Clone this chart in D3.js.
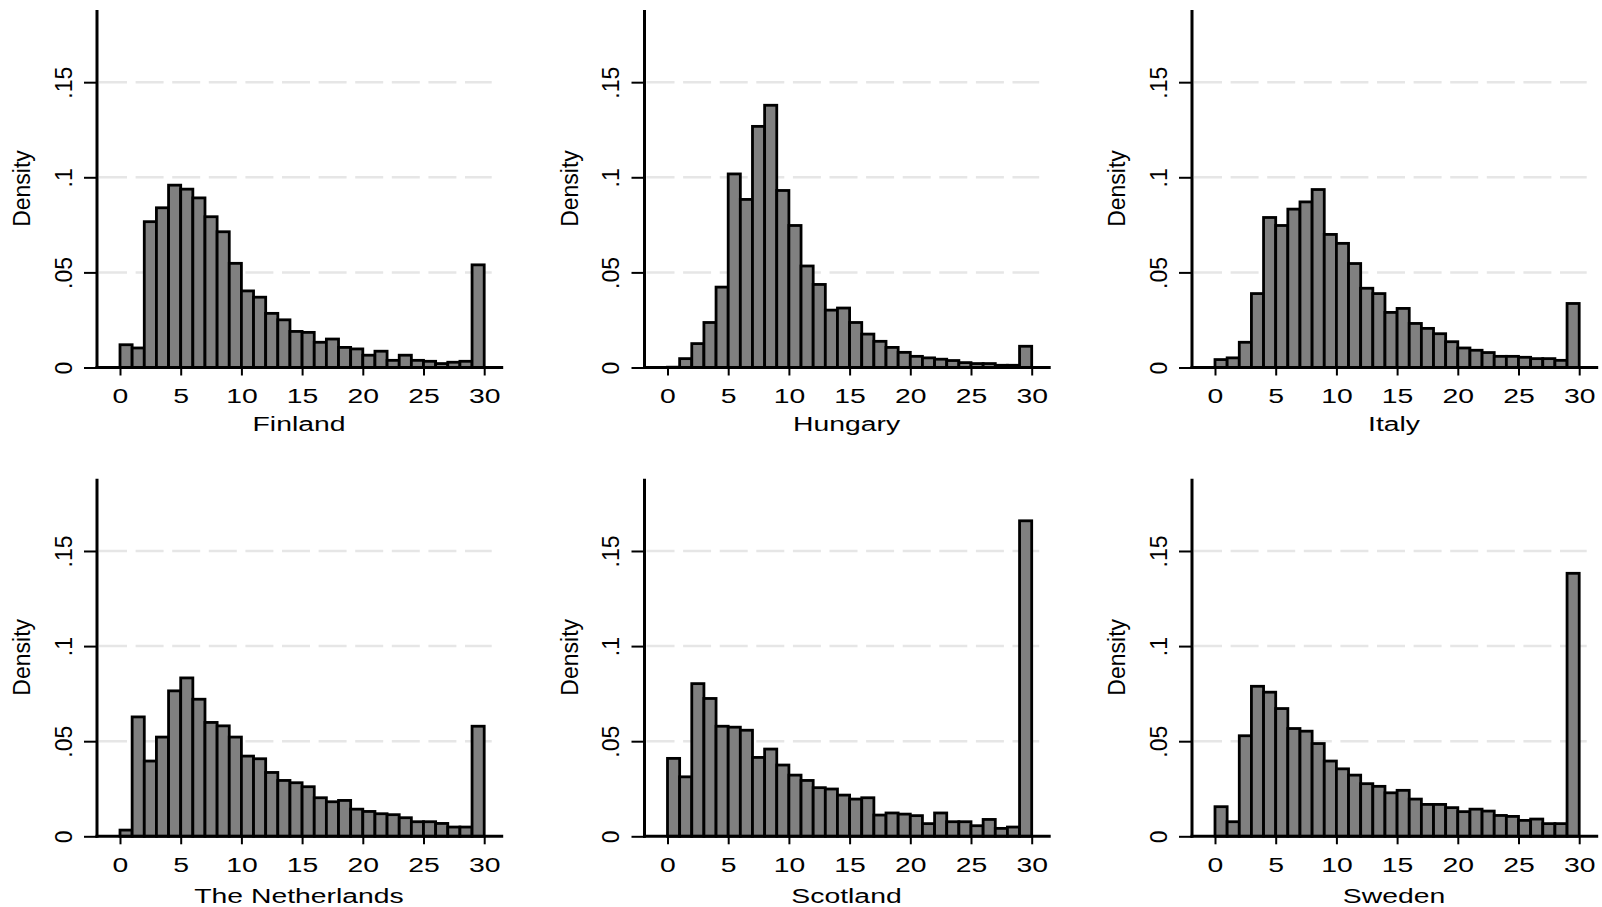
<!DOCTYPE html>
<html>
<head>
<meta charset="utf-8">
<script src="https://cdn.jsdelivr.net/npm/d3@7"></script>
<style>
  html, body { margin: 0; padding: 0; background: #fff; }
  svg { display: block; }
  text { font-family: "Liberation Sans", Arial, Helvetica, sans-serif; fill: #000; }
</style>
</head>
<body>
<div id="chart"></div>
<script>
// Density per 1-unit bin (0-1, 1-2, ... 29-30)
const finland = [0.0127, 0.0110, 0.0774, 0.0847, 0.0966, 0.0945, 0.0899, 0.0800, 0.0721, 0.0555,
                 0.0410, 0.0377, 0.0292, 0.0258, 0.0197, 0.0192, 0.0140, 0.0157, 0.0113, 0.0105,
                 0.0072, 0.0093, 0.0045, 0.0072, 0.0045, 0.0040, 0.0028, 0.0035, 0.0040, 0.0547];
const hungary = [0.0009, 0.0054, 0.0133, 0.0244, 0.0430, 0.1025, 0.0891, 0.1275, 0.1386, 0.0938,
                 0.0754, 0.0541, 0.0444, 0.0309, 0.0320, 0.0244, 0.0183, 0.0145, 0.0113, 0.0087,
                 0.0066, 0.0058, 0.0051, 0.0044, 0.0033, 0.0028, 0.0028, 0.0019, 0.0019, 0.0119];
const italy = [0.0049, 0.0058, 0.0140, 0.0396, 0.0796, 0.0754, 0.0840, 0.0878, 0.0943, 0.0707,
               0.0660, 0.0554, 0.0424, 0.0396, 0.0297, 0.0318, 0.0239, 0.0213, 0.0185, 0.0143,
               0.0110, 0.0098, 0.0086, 0.0066, 0.0066, 0.0061, 0.0054, 0.0054, 0.0045, 0.0344];
const netherlands = [0.0040, 0.0635, 0.0403, 0.0529, 0.0772, 0.0840, 0.0728, 0.0606, 0.0588, 0.0529,
                     0.0429, 0.0415, 0.0343, 0.0301, 0.0289, 0.0268, 0.0210, 0.0189, 0.0196, 0.0150,
                     0.0138, 0.0126, 0.0121, 0.0105, 0.0084, 0.0084, 0.0075, 0.0056, 0.0056, 0.0586];
const scotland = [0.0417, 0.0320, 0.0810, 0.0732, 0.0586, 0.0581, 0.0565, 0.0422, 0.0466, 0.0382,
                  0.0329, 0.0301, 0.0263, 0.0256, 0.0224, 0.0203, 0.0210, 0.0119, 0.0130, 0.0124,
                  0.0116, 0.0074, 0.0130, 0.0084, 0.0084, 0.0063, 0.0096, 0.0049, 0.0056, 0.1666];
const sweden = [0.0163, 0.0084, 0.0536, 0.0796, 0.0765, 0.0679, 0.0574, 0.0560, 0.0495, 0.0403,
                0.0362, 0.0329, 0.0284, 0.0270, 0.0236, 0.0249, 0.0203, 0.0175, 0.0175, 0.0158,
                0.0137, 0.0150, 0.0140, 0.0117, 0.0112, 0.0091, 0.0098, 0.0074, 0.0074, 0.1390];

const countries = ["Finland", "Hungary", "Italy", "The Netherlands", "Scotland", "Sweden"];
const seriesList = [finland, hungary, italy, netherlands, scotland, sweden];

const xTicks = [0, 5, 10, 15, 20, 25, 30];
const yTicks = [0, 0.05, 0.1, 0.15];
const yTickLabels = ["0", ".05", ".1", ".15"];

const width = 1602;
const height = 907;

const svg = d3.select("#chart")
    .append("svg")
    .attr("width", width)
    .attr("height", height);

svg.append("rect").attr("width", width).attr("height", height).attr("fill", "#fff");

// panel placement
const colX0 = [120, 667.5, 1215];   // pixel position of x = 0
const rowZero = [367.5, 836.3];     // pixel position of y = 0
const titleOffset = [63.5, 66.5];   // x title baseline below zero line
const xSpan = 364.2;
const ySpan = 357.6;
const yMax = 0.188;

seriesList.forEach((values, i) => {
    const col = i % 3;
    const row = Math.floor(i / 3);
    const x0 = colX0[col];
    const zero = rowZero[row];

    const x = d3.scaleLinear().domain([0, 30]).range([x0, x0 + xSpan]);
    const y = d3.scaleLinear().domain([0, yMax]).range([zero, zero - ySpan]);

    const axisX = x0 - 23;
    const axisEnd = x(30) + 19;

    const g = svg.append("g").attr("class", "panel");

    // dashed gridlines
    g.append("g")
        .selectAll("line")
        .data(yTicks.slice(1))
        .enter().append("line")
        .attr("x1", axisX)
        .attr("x2", x(30) + 7.5)
        .attr("y1", d => y(d))
        .attr("y2", d => y(d))
        .attr("stroke", "#e6e6e6")
        .attr("stroke-width", 2.5)
        .attr("stroke-dasharray", "28,8.6")
        .attr("stroke-dashoffset", -2);

    // bars
    const bw = 2.8;
    g.append("g")
        .selectAll("rect")
        .data(values)
        .enter().append("rect")
        .attr("x", (d, k) => x(k))
        .attr("width", (d, k) => x(k + 1) - x(k))
        .attr("y", d => y(d) + bw / 2)
        .attr("height", d => Math.max(0, zero - y(d) - bw / 2))
        .attr("fill", "#808080")
        .attr("stroke", "#000")
        .attr("stroke-width", bw);

    // y axis ticks + labels
    const yAxis = g.append("g")
        .attr("transform", `translate(${axisX},0)`)
        .call(d3.axisLeft(y).tickValues(yTicks).tickSize(13)
            .tickFormat((d, k) => yTickLabels[k]));
    yAxis.select(".domain").remove();
    yAxis.selectAll(".tick line").attr("stroke", "#000").attr("stroke-width", 2);
    yAxis.selectAll(".tick text")
        .attr("x", null).attr("dy", null)
        .attr("transform", "translate(-25.5,0) rotate(-90)")
        .attr("text-anchor", "middle")
        .style("font-size", "23px")
        .style("font-family", null);

    // x axis ticks + labels
    const xAxis = g.append("g")
        .attr("transform", `translate(0,${zero})`)
        .call(d3.axisBottom(x).tickValues(xTicks).tickSize(8));
    xAxis.select(".domain").remove();
    xAxis.selectAll(".tick line").attr("stroke", "#000").attr("stroke-width", 2);
    xAxis.selectAll(".tick text")
        .attr("y", null).attr("dy", null)
        .attr("transform", "translate(0,35.6) scale(1.35,1)")
        .attr("text-anchor", "middle")
        .style("font-size", "21px")
        .style("font-family", null);

    // axis lines
    g.append("line")
        .attr("x1", axisX).attr("x2", axisX)
        .attr("y1", zero - ySpan).attr("y2", zero + 1.5)
        .attr("stroke", "#000").attr("stroke-width", 3);
    g.append("line")
        .attr("x1", axisX - 1.5).attr("x2", axisEnd)
        .attr("y1", zero).attr("y2", zero)
        .attr("stroke", "#000").attr("stroke-width", 3);

    // y title
    g.append("text")
        .attr("transform", `translate(${axisX - 67},${zero - 179}) rotate(-90)`)
        .attr("text-anchor", "middle")
        .style("font-size", "23px")
        .text("Density");

    // x title
    g.append("text")
        .attr("transform", `translate(${x0 + 179},${zero + titleOffset[row]}) scale(1.35,1)`)
        .attr("text-anchor", "middle")
        .style("font-size", "21px")
        .text(countries[i]);
});
</script>
</body>
</html>
